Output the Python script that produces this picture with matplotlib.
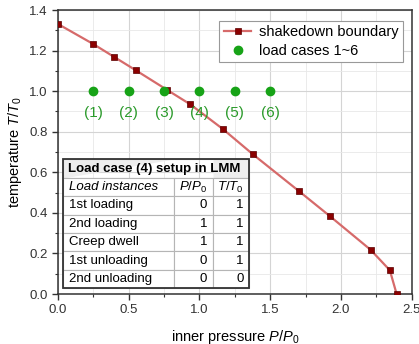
import matplotlib
matplotlib.use("Agg")
import matplotlib.pyplot as plt
from matplotlib.patches import Rectangle
from matplotlib.ticker import MultipleLocator

plt.rcParams['font.family'] = ['Liberation Sans', 'DejaVu Sans']
plt.rcParams['mathtext.fontset'] = 'custom'
plt.rcParams['mathtext.rm'] = 'Liberation Sans'
plt.rcParams['mathtext.it'] = 'Liberation Sans:italic'

# shakedown boundary
sd_p = [0.0, 0.25, 0.394, 0.552, 0.774, 0.935, 1.166, 1.379, 1.702, 1.922, 2.21, 2.346, 2.394]
sd_t = [1.331, 1.232, 1.170, 1.102, 1.005, 0.935, 0.813, 0.688, 0.508, 0.384, 0.218, 0.117, 0.0]

# load cases
lc_p = [0.25, 0.5, 0.75, 1.0, 1.25, 1.5]
lc_t = [1.0, 1.0, 1.0, 1.0, 1.0, 1.0]
lc_labels = ["(1)", "(2)", "(3)", "(4)", "(5)", "(6)"]

# table
table_title = "Load case (4) setup in LMM"
table_header = ["Load instances", "$P/P_0$", "$T/T_0$"]
instances = ["1st loading", "2nd loading", "Creep dwell", "1st unloading", "2nd unloading"]
inst_p = [0, 1, 1, 0, 0]
inst_t = [1, 1, 1, 1, 0]

fig = plt.figure(figsize=(4.19, 3.44), dpi=100)
ax = fig.add_axes([0.1384, 0.1453, 0.844, 0.8256])

ax.plot(sd_p, sd_t, color="#d66a6a", lw=1.6, marker="s", ms=4.5,
        mfc="#8b0000", mec="#5a0000", mew=0.5, label="shakedown boundary", zorder=3)
ax.plot(lc_p, lc_t, ls="none", marker="o", ms=6, color="#17a317",
        label="load cases 1~6", zorder=4)
for p, t, lab in zip(lc_p, lc_t, lc_labels):
    ax.text(p, t - 0.11, lab, color="#2a9a2a", fontsize=11, ha="center", va="center")

ax.set_xlim(0, 2.5)
ax.set_ylim(0, 1.4)
ax.xaxis.set_major_locator(MultipleLocator(0.5))
ax.xaxis.set_minor_locator(MultipleLocator(0.25))
ax.yaxis.set_major_locator(MultipleLocator(0.2))
ax.yaxis.set_minor_locator(MultipleLocator(0.1))
ax.grid(which="major", color="#d4d4d4", lw=0.8)
ax.grid(which="minor", color="#e8e8e8", lw=0.6)
ax.set_axisbelow(True)
ax.tick_params(which="major", direction="out", length=4, width=1, labelsize=9.5,
               color="#333333", labelcolor="#333333")
ax.tick_params(which="minor", direction="out", length=2, width=0.8, color="#333333")
for s in ax.spines.values():
    s.set_color("#333333")
    s.set_linewidth(1.1)

ax.set_xlabel("inner pressure $P/P_0$", fontsize=10.5, labelpad=8)
ax.set_ylabel("temperature $T/T_0$", fontsize=10.5, labelpad=4)

leg = ax.legend(loc="upper right", bbox_to_anchor=(0.975, 0.961), borderaxespad=0,
                fontsize=10.5, fancybox=False, edgecolor="#999999", framealpha=1,
                handlelength=1.9, borderpad=0.3, labelspacing=0.3, handletextpad=0.5)
leg.get_frame().set_linewidth(0.8)

# setup table
rows = [["", "", ""], table_header]
for name, p, t in zip(instances, inst_p, inst_t):
    rows.append([name, str(p), str(t)])

x0, x1, y0, y1 = 0.015, 0.541, 0.02, 0.474
tb = ax.table(cellText=rows, colWidths=[0.597, 0.21, 0.193],
              bbox=[x0, y0, x1 - x0, y1 - y0], zorder=5)
tb.auto_set_font_size(False)
tb.set_fontsize(9.5)
for (r, c), cell in tb.get_celld().items():
    cell.set_edgecolor("#b5b5b5")
    cell.set_linewidth(0.8)
    txt = cell.get_text()
    if c == 0:
        cell.PAD = 0.05
        cell._loc = "left"
        txt.set_ha("left")
    else:
        cell.PAD = 0.16
        cell._loc = "right"
        txt.set_ha("right")
    if r == 0:
        cell.set_facecolor("#eeeeee")
        cell.visible_edges = {0: "BTL", 1: "BT", 2: "BTR"}[c]
    if r == 1 and c == 0:
        txt.set_style("italic")
ax.add_patch(Rectangle((x0, y0), x1 - x0, y1 - y0, transform=ax.transAxes,
                       fill=False, ec="#333333", lw=1.3, zorder=6))
row_h = (y1 - y0) / len(rows)
ax.text(x0 + 0.014, y1 - row_h / 2, table_title, transform=ax.transAxes,
        fontsize=9.5, fontweight="bold", ha="left", va="center", zorder=7)

fig.savefig("out.png", dpi=100)
